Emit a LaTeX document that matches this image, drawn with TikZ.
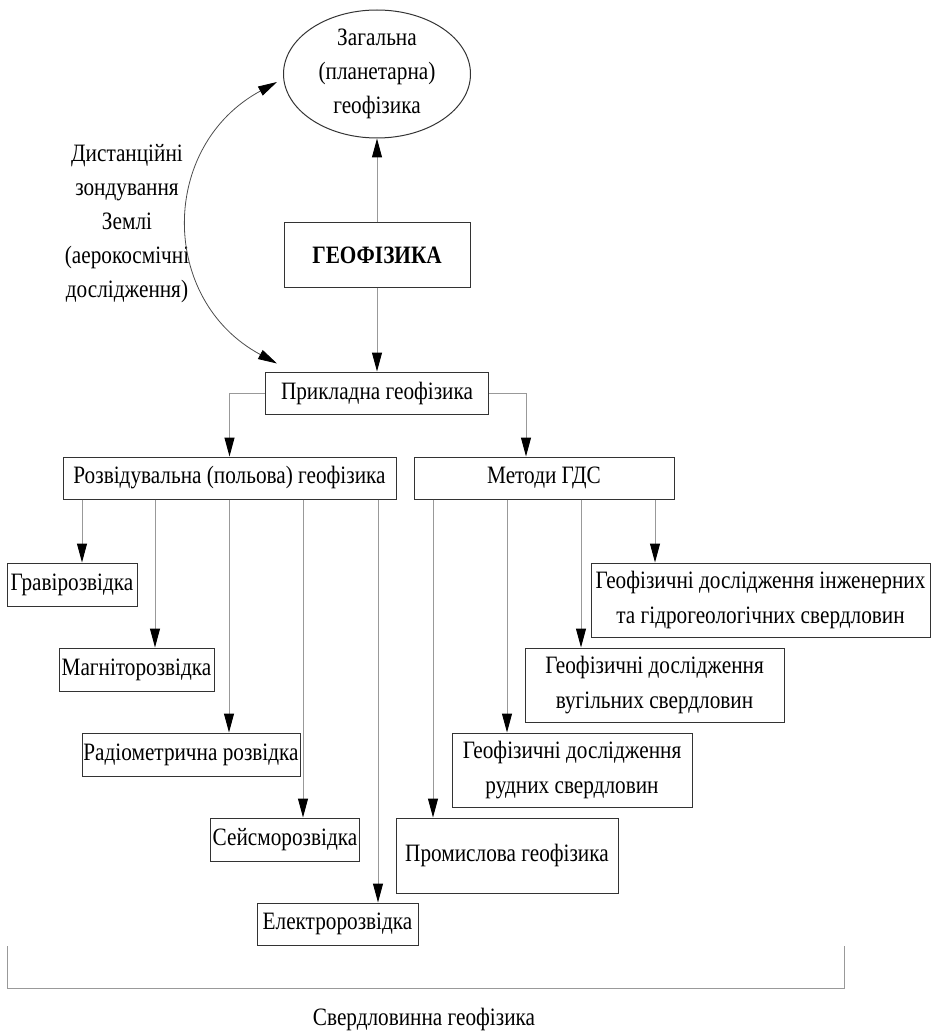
\documentclass[tikz,border=0pt]{standalone}
\usepackage{fontspec}
\setmainfont{Liberation Serif}[FakeStretch=0.85]
\usetikzlibrary{arrows.meta,shapes.geometric}

\begin{document}
\begin{tikzpicture}[x=1pt, y=-1pt,
		every node/.style={font=\fontsize{25}{34}\selectfont, inner sep=2pt},
		main/.style={draw=black!80, line width=1pt, align=center, minimum height=43pt},
		twoline/.style={main, font=\fontsize{25}{35}\selectfont, minimum height=74pt},
		oval/.style={draw=black!80, line width=1pt, ellipse, align=center, inner sep=0pt},
		conn/.style={draw=black!40, line width=1pt, -{Triangle[length=19pt,width=10pt,color=black]}},
		curv/.style={draw=black!70, line width=0.8pt, {Triangle[length=19pt,width=10pt,color=black]}-{Triangle[length=19pt,width=10pt,color=black]}}]
		\useasboundingbox (0,0) rectangle (932,1032);
		
		\node[oval, minimum width=187pt, minimum height=128pt] (zag) at (377,74) {Загальна\\(планетарна)\\геофізика};
		\node[main, minimum width=186pt, minimum height=64pt, font=\fontsize{25}{34}\selectfont\bfseries] (geo) at (377,255) {ГЕОФІЗИКА};
		\node[main, minimum width=223pt, minimum height=42pt] (prik) at (377,393) {Прикладна геофізика};
		\node[align=center] (dzl) at (127,223.5) {Дистанційні\\зондування\\Землі\\(аерокосмічні\\дослідження)};
		
		\node[main, minimum width=333pt, minimum height=42pt] (rozv) at (229.5,478) {Розвідувальна (польова) геофізика};
		\node[main, minimum width=260pt, minimum height=42pt] (metod) at (544,478) {Методи ГДС};
		
		% rozviduvalna
		\node[main, minimum width=130pt] (grav) at (72,584.5) {Гравірозвідка};
		\node[main, minimum width=155pt] (magn) at (136.5,669.5) {Магніторозвідка};
		\node[main, minimum width=218pt, inner xsep=1pt] (radio) at (191,754.5) {Радіометрична розвідка};
		\node[main, minimum width=148pt] (seis) at (285,839.5) {Сейсморозвідка};
		\node[main, minimum width=161pt, minimum height=42pt] (elek) at (337.5,924) {Електророзвідка};
		
		% metody GDS
		\node[twoline, minimum width=339pt] (inzh) at (760.5,600) {Геофізичні дослідження інженерних\\та гідрогеологічних свердловин};
		\node[twoline, minimum width=259pt] (vug) at (654.5,685) {Геофізичні дослідження\\вугільних свердловин};
		\node[twoline, minimum width=240pt] (rud) at (572,770) {Геофізичні дослідження\\рудних свердловин};
		\node[main, minimum width=222pt, minimum height=75pt] (prom) at (507,855.5) {Промислова геофізика};
		
		\draw[conn] (geo.north) -- (zag.south);
		\draw[conn] (geo.south) -- (prik.north);
		\draw[curv] ([xshift=-6pt,yshift=-8pt]zag.west) .. controls (159,146) and (159,300) .. ([xshift=12pt,yshift=8pt]prik.north west);
		\draw[conn] (prik.west) -| (rozv.north);
		\draw[conn] (prik.east) -| ([xshift=-18pt]metod.north);
		
		\foreach \x/\n in {82/grav, 155/magn, 229/radio, 303/seis, 378/elek}
			\draw[conn] (rozv.south -| \x,0) -- (\n.north -| \x,0);
		\foreach \x/\n in {433/prom, 507/rud, 581/vug, 655/inzh}
			\draw[conn] (metod.south -| \x,0) -- (\n.north -| \x,0);
		
		\coordinate (brL) at (7,946);
		\coordinate (brR) at (844,946);
		\draw[black!40, line width=1pt] (brL) -- ++(0,42) -| (brR);
		\node (sverd) at (424,1019) {Свердловинна геофізика};
	\end{tikzpicture}
\end{document}
